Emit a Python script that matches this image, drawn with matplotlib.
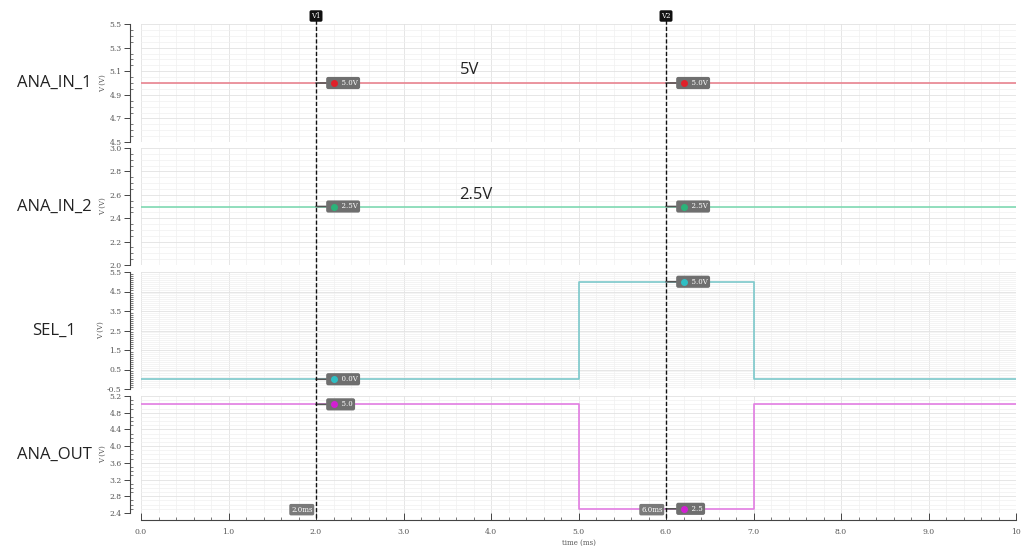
import matplotlib.pyplot as plt
from matplotlib.lines import Line2D
from matplotlib.ticker import MultipleLocator
import matplotlib.transforms as mtransforms

plt.rcParams['font.family'] = ['DejaVu Serif']
plt.rcParams['font.size'] = 5
plt.rcParams['xtick.labelsize'] = 5.5
plt.rcParams['ytick.labelsize'] = 5.5
plt.rcParams['xtick.color'] = '#444444'
plt.rcParams['ytick.color'] = '#444444'
plt.rcParams['xtick.labelcolor'] = '#555555'
plt.rcParams['ytick.labelcolor'] = '#555555'

# signal data
t = [0.0, 5.0, 7.0, 10.0]
ana_in_1 = [5.0, 5.0, 5.0, 5.0]
ana_in_2 = [2.5, 2.5, 2.5, 2.5]
sel_1 = [0.0, 5.0, 0.0, 0.0]
ana_out = [5.0, 2.5, 5.0, 5.0]

names = ['ANA_IN_1', 'ANA_IN_2', 'SEL_1', 'ANA_OUT']
series = [ana_in_1, ana_in_2, sel_1, ana_out]
colors = ['#e8838f', '#7fd9b2', '#7cc8cb', '#e27de2']
dot_colors = ['#e0202a', '#2bb37a', '#2fbfc4', '#d21fd2']
ylims = [(4.5, 5.5), (2.0, 3.0), (-0.5, 5.5), (2.4, 5.2)]
ymajor = [0.2, 0.2, 1.0, 0.4]
yminor = [0.05, 0.05, 0.1, 0.1]
ystart = [4.5, 2.0, -0.5, 2.4]

cursors = [2.0, 6.0]
cursor_names = ['V1', 'V2']
v1_labels = ['5.0V', '2.5V', '0.0V', '5.0']
v2_labels = ['5.0V', '2.5V', '5.0V', '2.5']
notes = {0: (3.76, 5.11, '5V'), 1: (3.82, 2.6, '2.5V')}

W, H = 1024, 546
fig = plt.figure(figsize=(W / 100, H / 100), dpi=100)
panels = [(24, 142), (148, 265), (272, 389), (396, 513)]
left, right = 141, 1016

axes = []
for i, (top, bot) in enumerate(panels):
    ax = fig.add_axes([left / W, 1 - bot / H, (right - left) / W, (bot - top) / H])
    axes.append(ax)
    ax.plot(t, series[i], drawstyle='steps-post', color=colors[i], lw=1.2)
    ax.set_xlim(0, 10)
    ax.set_ylim(*ylims[i])
    ticks = []
    v = ystart[i]
    while v <= ylims[i][1] + 1e-9:
        ticks.append(round(v, 2))
        v += ymajor[i]
    ax.set_yticks(ticks)
    ax.set_yticklabels([f'{x:.1f}' for x in ticks])
    ax.yaxis.set_minor_locator(MultipleLocator(yminor[i]))
    ax.xaxis.set_major_locator(MultipleLocator(1.0))
    ax.xaxis.set_minor_locator(MultipleLocator(0.2))
    ax.grid(True, which='major', color='#e2e2e2', lw=0.6)
    ax.grid(True, which='minor', color='#f0f0f0', lw=0.5)
    ax.set_axisbelow(True)
    for s in ['top', 'right', 'bottom']:
        ax.spines[s].set_visible(False)
    ax.spines['left'].set_position(('outward', 8))
    ax.spines['left'].set_color('#444444')
    ax.spines['left'].set_linewidth(0.8)
    ax.tick_params(axis='y', which='major', length=4, width=0.7, pad=2)
    ax.tick_params(axis='y', which='minor', length=2, width=0.5, direction='in')
    ax.set_ylabel('V (V)', fontsize=5, color='#555555', labelpad=1.5)
    if i < 3:
        ax.tick_params(axis='x', which='both', bottom=False, labelbottom=False)
    fig.text(54 / W, 1 - ((top + bot) / 2) / H, names[i], ha='center', va='center',
             fontsize=12, family='Open Sans', color='#222222')

    # cursor markers
    for cx, labs in zip(cursors, [v1_labels, v2_labels]):
        val = series[i][0] if cx < 5 else series[i][1]
        ax.annotate('      ' + labs[i], xy=(cx, val), xytext=(cx + 0.14, val),
                    va='center', ha='left', fontsize=5, color='white',
                    bbox=dict(boxstyle='round,pad=0.3', fc='#6f6f6f', ec='none'),
                    arrowprops=dict(arrowstyle='-', color='#555555', lw=1.2,
                                    shrinkA=0, shrinkB=0), zorder=8)
        ax.plot(cx + 0.21, val, 'o', color=dot_colors[i], ms=4, zorder=10,
                clip_on=False)

ax4 = axes[-1]
ax4.spines['bottom'].set_visible(True)
ax4.spines['bottom'].set_position(('outward', 5))
ax4.spines['bottom'].set_color('#444444')
ax4.spines['bottom'].set_linewidth(0.8)
ax4.tick_params(axis='x', which='major', direction='in', length=5, width=0.7, pad=6)
ax4.tick_params(axis='x', which='minor', direction='in', length=2.5, width=0.5)
ax4.set_xticks([0, 1, 2, 3, 4, 5, 6, 7, 8, 9, 10])
ax4.set_xticklabels(['0.0', '1.0', '2.0', '3.0', '4.0', '5.0', '6.0', '7.0',
                     '8.0', '9.0', '10'])
ax4.set_xlabel('time (ms)', fontsize=5, color='#555555', labelpad=2)

# cursor lines across all panels
trans = mtransforms.blended_transform_factory(ax4.transData, fig.transFigure)
for cx, cn in zip(cursors, cursor_names):
    fig.add_artist(Line2D([cx, cx], [1 - 518 / H, 1 - 12 / H], transform=trans,
                          color='#111111', lw=1.0, ls=(0, (3, 1.5))))
    fig.text(cx, 1 - 16 / H, cn, transform=trans, ha='center', va='center',
             fontsize=5, color='white',
             bbox=dict(boxstyle='round,pad=0.25', fc='#111111', ec='none'))
    ax4.text(cx - 0.04, 2.48, f'{cx:.1f}ms', ha='right', va='center', fontsize=5,
             color='white', zorder=9,
             bbox=dict(boxstyle='round,pad=0.25', fc='#7a7a7a', ec='none'))

for i, (x, y, s) in notes.items():
    axes[i].text(x, y, s, ha='center', va='center', fontsize=12,
                 family='Open Sans', color='#222222')

fig.savefig('out.png', dpi=100, facecolor='white')
